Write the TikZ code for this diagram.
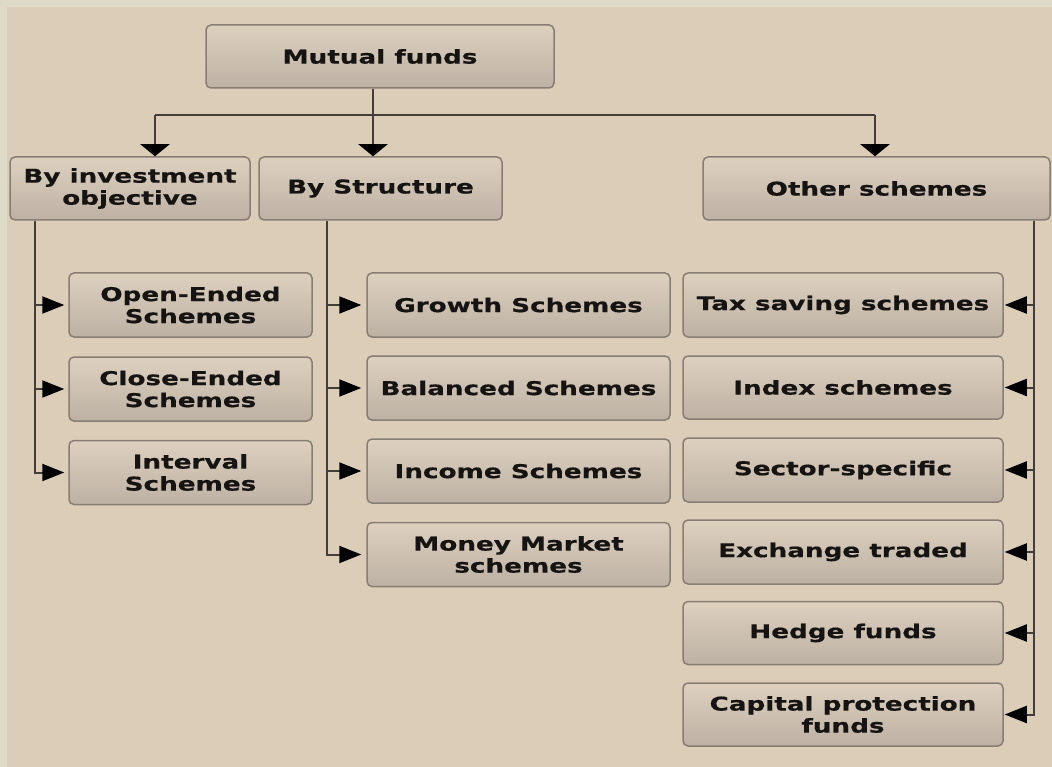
\documentclass[tikz,border=0pt]{standalone}
\usepackage{fontspec}
\setmainfont{DejaVu Sans}
\newfontfamily\boxfont[FakeStretch=1.38,FakeBold=0.6]{DejaVu Sans}
\usetikzlibrary{arrows.meta,calc}
\definecolor{bgcol}{RGB}{220,205,185}
\definecolor{stripcol}{RGB}{222,218,200}
\definecolor{boxtop}{RGB}{221,208,191}
\definecolor{boxbot}{RGB}{189,177,164}
\definecolor{boxline}{RGB}{135,126,115}
\definecolor{linecol}{RGB}{68,62,56}
\definecolor{txtcol}{RGB}{22,20,18}
\tikzset{
  box/.style={draw=boxline, line width=1.5pt, rounded corners=5pt,
    top color=boxtop, middle color=boxtop, bottom color=boxbot,
    font=\boxfont\bfseries\fontsize{19}{22}\selectfont, text=txtcol,
    align=center, inner sep=0pt, minimum height=63pt},
  conn/.style={draw=linecol, line width=2pt},
  dtip/.style={-{Triangle[width=29pt,length=12pt,color=black]}},
  stip/.style={-{Triangle[width=17pt,length=22pt,color=black]}},
}
\begin{document}
\begin{tikzpicture}[x=1pt,y=-1pt]
\fill[stripcol] (0,0) rectangle (1052,767);
\fill[bgcol] (7,7) rectangle (1052,767);
\useasboundingbox (0,0) rectangle (1052,767);

% top level
\node[box, minimum width=348pt] (mf) at (380,56.5) {Mutual funds};
\node[box, minimum width=240pt] (inv) at (130,188.5) {By investment\\objective};
\node[box, minimum width=243pt] (str) at (380.5,188.5) {By Structure};
\node[box, minimum width=347pt] (oth) at (876.5,188.5) {Other schemes};

% left column
\node[box, minimum width=243pt, minimum height=64pt] (o1) at (190.5,305) {Open-Ended\\Schemes};
\node[box, minimum width=243pt, minimum height=64pt] (o2) at (190.5,389) {Close-Ended\\Schemes};
\node[box, minimum width=243pt, minimum height=64pt] (o3) at (190.5,472.5) {Interval\\Schemes};

% middle column
\node[box, minimum width=303pt, minimum height=64pt] (s1) at (518.5,305) {Growth Schemes};
\node[box, minimum width=303pt, minimum height=64pt] (s2) at (518.5,388) {Balanced Schemes};
\node[box, minimum width=303pt, minimum height=64pt] (s3) at (518.5,471) {Income Schemes};
\node[box, minimum width=303pt, minimum height=64pt] (s4) at (518.5,554.5) {Money Market\\schemes};

% right column
\node[box, minimum width=320pt, minimum height=64pt] (r1) at (843,305) {Tax saving schemes};
\node[box, minimum width=320pt] (r2) at (843,387.5) {Index schemes};
\node[box, minimum width=320pt, minimum height=64pt] (r3) at (843,470) {Sector-specific};
\node[box, minimum width=320pt, minimum height=64pt] (r4) at (843,552) {Exchange traded};
\node[box, minimum width=320pt] (r5) at (843,633) {Hedge funds};
\node[box, minimum width=320pt] (r6) at (843,714.5) {Capital protection\\funds};

% top connectors
\coordinate (busL) at (155,115);
\coordinate (busR) at (875,115);
\coordinate (lt) at (35,0);
\coordinate (mt) at (327,0);
\coordinate (rt) at (1034,0);
\draw[conn] (busL) -- (busR);
\draw[conn, dtip] ($(mf.south)+(-7,0)$) -- ($(str.north)+(-7.5,0)$);
\draw[conn, dtip] (busL) -- (busL |- inv.north);
\draw[conn, dtip] (busR) -- (busR |- oth.north);

% left trunk
\draw[conn, stip, shorten >=4pt] (lt |- inv.south) |- (o3.west);
\draw[conn, stip, shorten >=4pt] (lt |- o1.west) -- (o1.west);
\draw[conn, stip, shorten >=4pt] (lt |- o2.west) -- (o2.west);

% middle trunk
\draw[conn, stip, shorten >=5pt] (mt |- str.south) |- (s4.west);
\draw[conn, stip, shorten >=5pt] (mt |- s1.west) -- (s1.west);
\draw[conn, stip, shorten >=5pt] (mt |- s2.west) -- (s2.west);
\draw[conn, stip, shorten >=5pt] (mt |- s3.west) -- (s3.west);

% right trunk
\draw[conn, stip, shorten >=1pt] (rt |- oth.south) |- (r6.east);
\draw[conn, stip, shorten >=1pt] (rt |- r1.east) -- (r1.east);
\draw[conn, stip, shorten >=1pt] (rt |- r2.east) -- (r2.east);
\draw[conn, stip, shorten >=1pt] (rt |- r3.east) -- (r3.east);
\draw[conn, stip, shorten >=1pt] (rt |- r4.east) -- (r4.east);
\draw[conn, stip, shorten >=1pt] (rt |- r5.east) -- (r5.east);
\end{tikzpicture}
\end{document}
